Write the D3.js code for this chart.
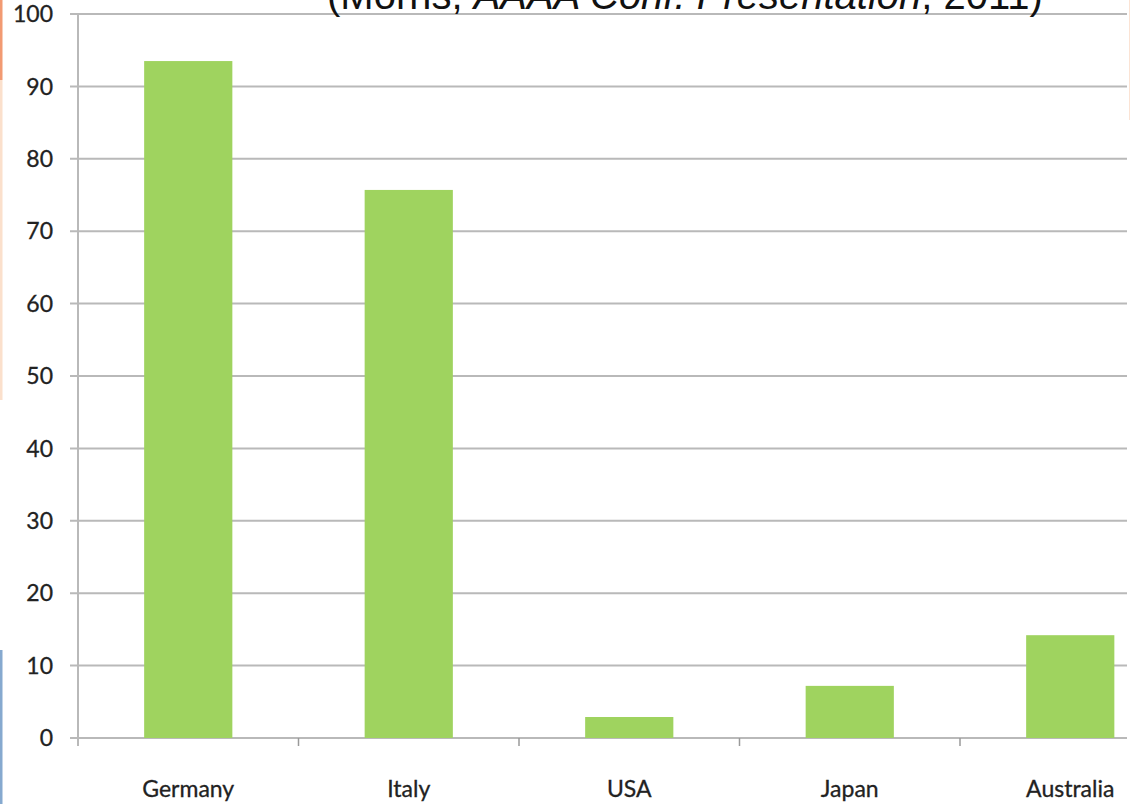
<!DOCTYPE html>
<html>
<head>
<meta charset="utf-8">
<script src="https://cdn.jsdelivr.net/npm/d3@7"></script>
<style>
  html, body { margin: 0; padding: 0; background: #fff; }
  svg { display: block; }
</style>
</head>
<body>
<svg id="chart" width="1133" height="804"></svg>
<script>
const categories = ["Germany", "Italy", "USA", "Japan", "Australia"];
const values = [93.5, 75.7, 2.9, 7.2, 14.2];
const yTicks = [0, 10, 20, 30, 40, 50, 60, 70, 80, 90, 100];
const citeLead = "(Morris, ";
const citeItalic = "AAAA Conf. Presentation";
const citeTail = ", 2011)";

const svg = d3.select("#chart");
const W = 1133, H = 804;
const x0 = 78, y0 = 738, yTop = 14;

const y = d3.scaleLinear().domain([0, 100]).range([y0, yTop]);
const x = d3.scaleBand().domain(categories)
  .range([x0, x0 + 5 * 220.5]).paddingInner(0.6).paddingOuter(0.3);
const step = x.step();

// left decorative strips
svg.append("rect").attr("x", 0).attr("y", 0).attr("width", 2.5).attr("height", 80).attr("fill", "#f29a72");
svg.append("rect").attr("x", 0).attr("y", 80).attr("width", 2.5).attr("height", 320).attr("fill", "#fbe0cc");
svg.append("rect").attr("x", 0).attr("y", 650).attr("width", 2.5).attr("height", 154).attr("fill", "#86a9cf");
svg.append("rect").attr("x", 1129).attr("y", 0).attr("width", 1).attr("height", 120).attr("fill", "#fbe3d4");

// gridlines
svg.append("g").selectAll("line").data(yTicks).join("line")
  .attr("x1", 70).attr("x2", 1127)
  .attr("y1", d => y(d)).attr("y2", d => y(d))
  .attr("stroke", "#b9b9b9").attr("stroke-width", 2);

// y axis line
svg.append("line").attr("x1", x0).attr("x2", x0).attr("y1", yTop).attr("y2", y0 + 8)
  .attr("stroke", "#b9b9b9").attr("stroke-width", 2);

// category ticks
svg.append("g").selectAll("line").data(categories.slice(1)).join("line")
  .attr("x1", d => x(d) - step * 0.3).attr("x2", d => x(d) - step * 0.3)
  .attr("y1", y0).attr("y2", y0 + 8)
  .attr("stroke", "#9a9a9a").attr("stroke-width", 1.5);

// bars
svg.append("g").selectAll("rect").data(categories).join("rect")
  .attr("x", d => x(d))
  .attr("width", x.bandwidth())
  .attr("y", (d, i) => y(values[i]))
  .attr("height", (d, i) => y0 - y(values[i]))
  .attr("fill", "#9fd35f");

// y tick labels
svg.append("g").selectAll("text").data(yTicks).join("text")
  .attr("x", 53).attr("y", d => y(d))
  .attr("dy", "0.36em")
  .attr("text-anchor", "end")
  .attr("font-family", "Lato, 'Open Sans', sans-serif")
  .attr("font-size", 23)
  .attr("fill", "#222")
  .attr("stroke", "#222").attr("stroke-width", 0.3)
  .text(d => d);

// category labels
svg.append("g").selectAll("text").data(categories).join("text")
  .attr("x", d => x(d) + x.bandwidth() / 2)
  .attr("y", 797)
  .attr("text-anchor", "middle")
  .attr("font-family", "Lato, 'Open Sans', sans-serif")
  .attr("font-size", 23)
  .attr("fill", "#222")
  .attr("stroke", "#222").attr("stroke-width", 0.3)
  .text(d => d);

// citation (cropped at top, as in the reference)
const t = svg.append("text")
  .attr("x", 327).attr("y", 9)
  .attr("font-family", "'Liberation Sans', Arial, sans-serif")
  .attr("font-size", 40)
  .attr("fill", "#111");
t.append("tspan").text(citeLead);
t.append("tspan").attr("font-style", "italic").text(citeItalic);
t.append("tspan").text(citeTail);
</script>
</body>
</html>
